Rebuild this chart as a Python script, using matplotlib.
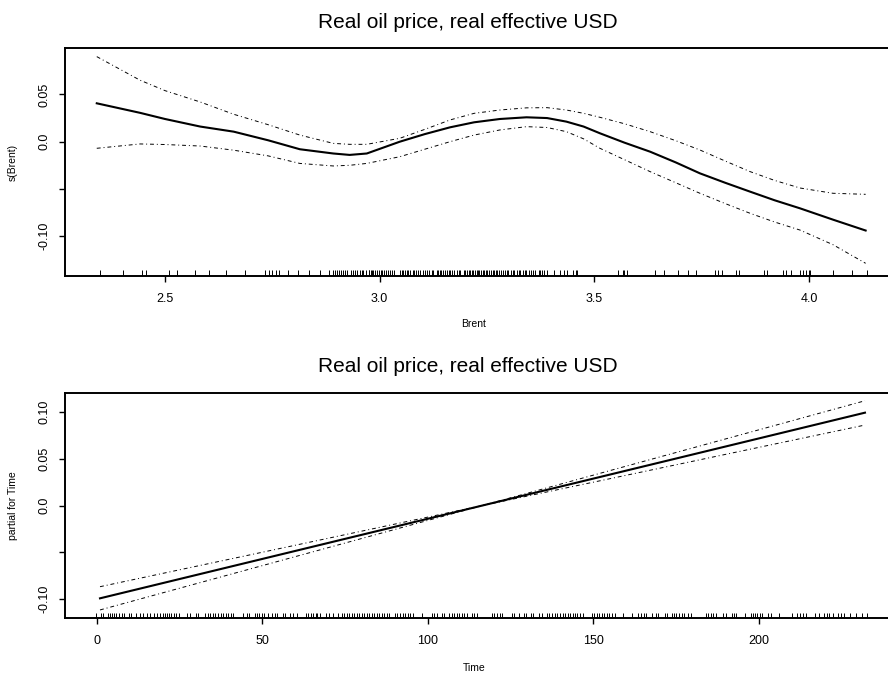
import numpy as np
import matplotlib
matplotlib.use('Agg')
import matplotlib.pyplot as plt

plt.rcParams['font.family'] = ['Liberation Sans', 'DejaVu Sans']

# Panel 1: smooth term for Brent
brent_x = [2.341, 2.442, 2.500, 2.582, 2.660, 2.740, 2.814, 2.892, 2.930, 2.970, 3.047,
           3.105, 3.164, 3.220, 3.280, 3.342, 3.390, 3.435, 3.475, 3.513, 3.570, 3.630,
           3.690, 3.746, 3.805, 3.863, 3.920, 3.979, 4.056, 4.132]
brent_fit = [0.0406, 0.0305, 0.0240, 0.0160, 0.0106, 0.0015, -0.0080, -0.0125, -0.0140, -0.0125, 0.0000,
             0.0080, 0.0152, 0.0205, 0.0240, 0.0258, 0.0250, 0.0212, 0.0160, 0.0089, -0.0010, -0.0106,
             -0.0220, -0.0335, -0.0435, -0.0529, -0.0620, -0.0705, -0.0825, -0.0940]
brent_upper = [0.0900, 0.0650, 0.0540, 0.0420, 0.0290, 0.0180, 0.0070, -0.0018, -0.0028, -0.0028, 0.0036,
               0.0130, 0.0230, 0.0300, 0.0335, 0.0358, 0.0360, 0.0335, 0.0300, 0.0258, 0.0190, 0.0106,
               0.0010, -0.0088, -0.0205, -0.0317, -0.0410, -0.0490, -0.0546, -0.0557]
brent_lower = [-0.0070, -0.0024, -0.0030, -0.0046, -0.0090, -0.0150, -0.0230, -0.0257, -0.0250, -0.0230, -0.0159,
               -0.0080, 0.0000, 0.0070, 0.0124, 0.0159, 0.0150, 0.0106, 0.0030, -0.0070, -0.0190, -0.0317,
               -0.0435, -0.0546, -0.0655, -0.0758, -0.0850, -0.0935, -0.1090, -0.1287]
brent_rug = [2.349, 2.401, 2.447, 2.455, 2.510, 2.527, 2.570, 2.602, 2.641, 2.687, 2.733, 2.743,
             2.750, 2.759, 2.766, 2.787, 2.810, 2.835, 2.861, 2.881, 2.891, 2.896, 2.901, 2.906,
             2.910, 2.914, 2.919, 2.925, 2.933, 2.937, 2.943, 2.948, 2.954, 2.958, 2.962, 2.968,
             2.974, 2.976, 2.979, 2.982, 2.985, 2.989, 2.993, 2.998, 3.002, 3.006, 3.010, 3.015,
             3.020, 3.024, 3.028, 3.033, 3.047, 3.051, 3.055, 3.059, 3.063, 3.067, 3.071, 3.077,
             3.080, 3.085, 3.090, 3.094, 3.102, 3.106, 3.111, 3.116, 3.121, 3.125, 3.134, 3.137,
             3.141, 3.144, 3.148, 3.152, 3.156, 3.161, 3.164, 3.169, 3.173, 3.179, 3.184, 3.187,
             3.196, 3.199, 3.203, 3.207, 3.210, 3.214, 3.218, 3.222, 3.226, 3.229, 3.232, 3.236,
             3.240, 3.243, 3.247, 3.251, 3.255, 3.259, 3.263, 3.266, 3.270, 3.274, 3.279, 3.282,
             3.287, 3.291, 3.296, 3.300, 3.305, 3.310, 3.314, 3.319, 3.324, 3.327, 3.333, 3.339,
             3.342, 3.347, 3.352, 3.356, 3.361, 3.370, 3.373, 3.378, 3.383, 3.389, 3.405, 3.420,
             3.429, 3.436, 3.450, 3.457, 3.460, 3.556, 3.566, 3.570, 3.575, 3.641, 3.663, 3.696,
             3.719, 3.736, 3.781, 3.787, 3.797, 3.829, 3.838, 3.895, 3.902, 3.939, 3.946, 3.957,
             3.979, 3.985, 3.993, 3.999, 4.003, 4.057, 4.101, 4.136]
brent_ticks = [2.5, 3.0, 3.5, 4.0]
brent_yticks = [-0.10, -0.05, 0.0, 0.05]
brent_ylabels = ['-0.10', '', '0.0', '0.05']

# Panel 2: linear term for Time
time_x = [1, 116.5, 232]
time_fit = [-0.099, 0.0, 0.099]
time_upper = [-0.0866, 0.0, 0.1117]
time_lower = [-0.1114, 0.0, 0.0858]
time_rug = [-0.2, 1.2, 2.0, 3.3, 4.0, 4.6, 5.3, 5.8, 6.8, 7.5, 8.3, 9.8, 10.4, 11.9, 13.1, 13.9,
            15.3, 16.1, 17.3, 18.3, 19.1, 20.1, 20.7, 21.3, 21.9, 22.4, 23.2, 24.0, 25.0, 27.2,
            28.2, 30.0, 30.7, 32.8, 33.5, 34.2, 35.0, 35.8, 36.7, 37.4, 38.1, 38.9, 39.8, 40.5,
            41.1, 44.1, 45.3, 45.9, 47.8, 48.5, 49.1, 49.8, 50.5, 51.8, 53.0, 53.7, 54.4, 56.2,
            56.8, 58.4, 59.2, 60.6, 63.2, 63.9, 64.6, 65.4, 66.1, 66.6, 67.4, 69.3, 70.3, 71.3,
            73.0, 74.0, 74.7, 75.5, 76.3, 77.0, 77.7, 78.5, 79.3, 80.0, 80.8, 81.5, 82.3, 83.0,
            83.8, 84.5, 85.4, 86.1, 86.9, 87.6, 88.4, 90.1, 90.8, 91.6, 92.4, 93.1, 93.9, 94.6,
            95.4, 98.1, 101.2, 101.9, 102.7, 104.2, 104.9, 106.5, 107.2, 108.0, 108.7, 109.5,
            110.2, 110.9, 111.7, 113.2, 113.9, 114.7, 119.3, 120.0, 120.8, 121.8, 122.5, 125.3,
            126.0, 127.6, 129.0, 129.6, 131.0, 131.7, 133.6, 134.4, 135.9, 136.7, 137.4, 138.4,
            139.1, 139.9, 140.7, 141.4, 142.2, 142.9, 143.7, 144.4, 145.1, 145.9, 146.8, 149.5,
            150.2, 151.0, 151.8, 152.5, 153.2, 154.0, 154.8, 155.5, 156.5, 158.8, 161.5, 163.5,
            164.5, 165.2, 165.9, 167.6, 168.9, 169.6, 171.6, 172.3, 173.6, 174.3, 174.9, 175.9,
            176.6, 177.3, 178.6, 179.6, 184.0, 184.7, 185.4, 186.2, 186.9, 189.2, 190.0, 191.7,
            192.4, 193.2, 195.7, 197.5, 198.1, 198.8, 199.5, 200.3, 200.8, 202.8, 203.5, 206.1,
            210.1, 211.4, 212.4, 213.2, 214.2, 216.9, 218.2, 219.6, 220.4, 221.2, 222.4, 223.9,
            224.9, 225.6, 227.5, 229.3, 231.0, 232.7]
time_ticks = [0, 50, 100, 150, 200]
time_yticks = [-0.10, -0.05, 0.0, 0.05, 0.10]
time_ylabels = ['-0.10', '', '0.0', '0.05', '0.10']

title = 'Real oil price, real effective USD'
W, H = 888, 680
fig = plt.figure(figsize=(W / 100, H / 100), dpi=100)

# axes boxes in pixels: left, top, right, bottom (right edge runs past the image)
ax1 = fig.add_axes([65 / W, 1 - 275.7 / H, 830 / W, 227.4 / H])
ax2 = fig.add_axes([65 / W, 1 - 618.3 / H, 830 / W, 225.6 / H])

dashdot = (0, (4, 3, 1, 3))


def panel(ax, x, fit, up, lo, rug, xticks, yticks, ylabels, xlim, ylim, ylab):
    ax.plot(x, fit, color='black', lw=1.5)
    ax.plot(x, up, color='black', lw=0.7, linestyle=dashdot)
    ax.plot(x, lo, color='black', lw=0.7, linestyle=dashdot)
    ax.vlines(rug, 0, 0.024, transform=ax.get_xaxis_transform(), color='black', lw=0.7)
    ax.set_xlim(*xlim)
    ax.set_ylim(*ylim)
    ax.set_xticks(xticks)
    ax.set_xticklabels([str(t) for t in xticks])
    ax.set_yticks(yticks)
    ax.set_yticklabels(ylabels, rotation=90, va='center')
    ax.tick_params(axis='both', length=4.3, width=1, labelsize=9, direction='out')
    ax.tick_params(axis='x', pad=8)
    ax.tick_params(axis='y', pad=6)
    for s in ax.spines.values():
        s.set_linewidth(1.4)
    ax.set_ylabel(ylab, fontsize=7.5)
    ax.yaxis.set_label_coords(-(65 - 18) / 830, 0.5)


panel(ax1, brent_x, brent_fit, brent_upper, brent_lower, brent_rug, brent_ticks,
      brent_yticks, brent_ylabels, (2.267, 4.2004), (-0.1418, 0.0988), 's(Brent)')
ax1.set_xticklabels(['2.5', '3.0', '3.5', '4.0'])
panel(ax2, time_x, time_fit, time_upper, time_lower, time_rug, time_ticks,
      time_yticks, time_ylabels, (-9.57, 241.07), (-0.1203, 0.1203), 'partial for Time')

fig.text(468 / W, 1 - 22 / H, title, ha='center', va='center', fontsize=15)
fig.text(468 / W, 1 - 367 / H, title, ha='center', va='center', fontsize=15)
fig.text(474 / W, 1 - 324 / H, 'Brent', ha='center', va='center', fontsize=7.5)
fig.text(474 / W, 1 - 668 / H, 'Time', ha='center', va='center', fontsize=7.5)

fig.savefig('out.png', dpi=100)
